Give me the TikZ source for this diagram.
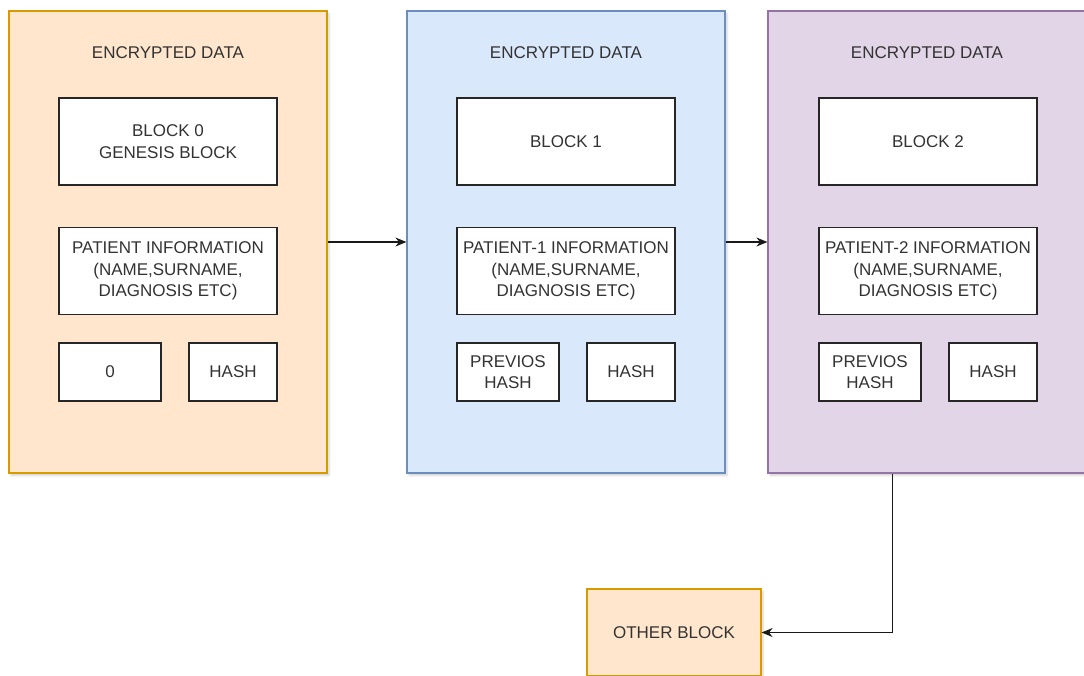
\documentclass[tikz,border=0pt]{standalone}
\usepackage{fontspec}
\setmainfont{Liberation Sans}
\usetikzlibrary{arrows.meta,shadows.blur}

\definecolor{orfill}{HTML}{FFE6CC}
\definecolor{ordraw}{HTML}{D79B00}
\definecolor{blfill}{HTML}{DAE8FC}
\definecolor{bldraw}{HTML}{6C8EBF}
\definecolor{pufill}{HTML}{E1D5E7}
\definecolor{pudraw}{HTML}{9673A6}
\definecolor{txt}{HTML}{333333}

\tikzset{
  blk/.style={draw, line width=1.2pt, inner sep=0pt,
    blur shadow={shadow xshift=2pt, shadow yshift=-2.5pt, shadow opacity=18, shadow blur radius=2pt}},
  bigblk/.style={blk, minimum width=318pt, minimum height=462pt},
  cell/.style={draw=black!85, fill=white, line width=1.2pt, inner sep=0pt,
    align=center, text=txt, font=\fontsize{17}{21.5}\selectfont},
  wide/.style={cell, minimum width=218pt, minimum height=87pt},
  ttl/.style={text=txt, font=\fontsize{17}{21.5}\selectfont},
  arr/.style={-{Stealth[length=11pt,width=9pt]}, line width=1.2pt, draw=black!90}
}

\begin{document}
\begin{tikzpicture}[x=1pt,y=-1pt]
    \useasboundingbox (0,0) rectangle (1084,675);

    % genesis block
    \node[bigblk, fill=orfill, draw=ordraw] (blk0) at (168,242) {};
    \node[ttl] (ttl0) at (168,53) {ENCRYPTED DATA};
    \node[wide] (head0) at (168,141.5) {BLOCK 0\\GENESIS BLOCK};
    \node[wide] (info0) at (168,271) {PATIENT INFORMATION\\(NAME,SURNAME,\\DIAGNOSIS ETC)};
    \node[cell, minimum width=102pt, minimum height=58pt] (prev0) at (110,372) {0};
    \node[cell, minimum width=88pt, minimum height=58pt] (hash0) at (233,372) {HASH};

    % block 1
    \node[bigblk, fill=blfill, draw=bldraw] (blk1) at (566,242) {};
    \node[ttl] (ttl1) at (566,53) {ENCRYPTED DATA};
    \node[wide] (head1) at (566,141.5) {BLOCK 1};
    \node[wide] (info1) at (566,271) {PATIENT-1 INFORMATION\\(NAME,SURNAME,\\DIAGNOSIS ETC)};
    \node[cell, minimum width=102pt, minimum height=58pt] (prev1) at (508,372) {PREVIOS\\HASH};
    \node[cell, minimum width=88pt, minimum height=58pt] (hash1) at (631,372) {HASH};

    % block 2
    \node[bigblk, fill=pufill, draw=pudraw] (blk2) at (927,242) {};
    \node[ttl] (ttl2) at (927,53) {ENCRYPTED DATA};
    \node[wide] (head2) at (928,141.5) {BLOCK 2};
    \node[wide] (info2) at (928,271) {PATIENT-2 INFORMATION\\(NAME,SURNAME,\\DIAGNOSIS ETC)};
    \node[cell, minimum width=102pt, minimum height=58pt] (prev2) at (870,372) {PREVIOS\\HASH};
    \node[cell, minimum width=88pt, minimum height=58pt] (hash2) at (993,372) {HASH};

    % next block in the chain
    \node[blk, fill=orfill, draw=ordraw, minimum width=174pt, minimum height=87pt,
          text=txt, font=\fontsize{17}{21.5}\selectfont] (other) at (674,632.5) {OTHER BLOCK};

    % links
    \draw[arr] (blk0.east) -- (blk1.west);
    \draw[arr] (blk1.east) -- (blk2.west);
    \draw[arr] ([xshift=125pt]blk2.south west) |- (other.east);
\end{tikzpicture}
\end{document}
